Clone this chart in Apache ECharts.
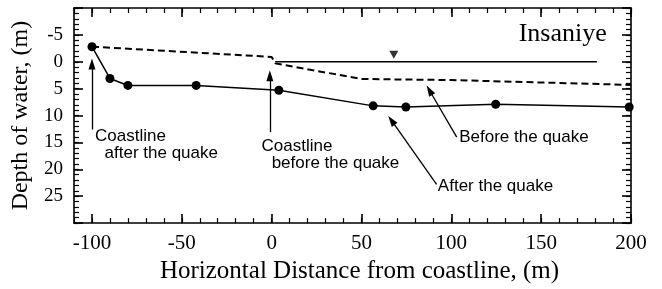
<!DOCTYPE html>
<html>
<head>
<meta charset="utf-8">
<script src="https://cdn.jsdelivr.net/npm/echarts@6/dist/echarts.min.js"></script>
<style>html,body{margin:0;padding:0;background:#fff;}#c{width:662px;height:289px;}</style>
</head>
<body>
<div id="c"></div>
<script>
// ---- data ----
const xMin = -110, xMax = 200, yMin = -10, yMax = 30;
const xMajorTicks = [-100, -50, 0, 50, 100, 150, 200];
const yLabels = [-5, 0, 5, 10, 15, 20, 25];
const afterQuake = [[-100, -2.8], [-90, 3.1], [-80, 4.4], [-42, 4.4], [4, 5.3], [56.5, 8.2], [74.7, 8.4], [124.7, 7.9], [199, 8.4]];
const beforeQuake = [[-100, -2.8], [0, -0.9], [2, 0.3], [50, 3.2], [100, 3.4], [200, 4.3]];
const seaLevel = [[2, 0], [181, 0]];
const seaMarker = [[68, -1.3]];
// annotation arrows: [tail, head] in data coordinates
const arrows = [
  [[-100, 12.6], [-100, 0.4]],
  [[-1, 13.1], [-1, 2.6]],
  [[103, 14], [87.8, 5.3]],
  [[91.8, 22.8], [66.7, 10.9]]
];
// annotation texts: [text, x(left), y(center)]
const notes = [
  ['Coastline', -98.3, 13.8],
  ['after the quake', -93, 17.1],
  ['Coastline', -5.6, 15.8],
  ['before the quake', 0, 18.9],
  ['Before the quake', 104.4, 14],
  ['After the quake', 92.5, 23.1]
];
const siteName = ['Insaniye', 162, -5.1];

const serif = '"Liberation Serif", "Times New Roman", serif';
const sans = '"Liberation Sans", Arial, sans-serif';
const black = '#000';

const chart = echarts.init(document.getElementById('c'), null, {renderer: 'canvas'});

function xAx(pos, major, extra) {
  const ax = {
    type: 'value', position: pos, min: xMin, max: xMax, offset: 0,
    axisLine: {show: major, onZero: false, lineStyle: {color: black, width: 1.6}},
    splitLine: {show: false},
    axisLabel: {show: false},
    axisTick: major ? {show: true, inside: true, length: 9, customValues: xMajorTicks, lineStyle: {color: black, width: 1.6}}
                    : {show: true, inside: true, length: 5, lineStyle: {color: black, width: 1.2}}
  };
  if (!major) ax.interval = 10;
  return Object.assign(ax, extra || {});
}
function yAx(pos, major, extra) {
  return Object.assign({
    type: 'value', position: pos, min: yMin, max: yMax, inverse: true, offset: 0,
    interval: major ? 5 : 1,
    axisLine: {show: major, onZero: false, lineStyle: {color: black, width: 1.6}},
    splitLine: {show: false},
    axisLabel: {show: false},
    axisTick: {show: true, inside: true, length: major ? 9 : 5, lineStyle: {color: black, width: major ? 1.6 : 1.2}}
  }, extra || {});
}

const option = {
  animation: false,
  backgroundColor: '#fff',
  grid: {left: 74, top: 8, right: 31, bottom: 61, containLabel: false},
  xAxis: [
    xAx('bottom', true, {
      name: 'Horizontal Distance from coastline, (m)', nameLocation: 'middle', nameGap: 31,
      nameTextStyle: {fontFamily: serif, fontSize: 25, color: black, padding: [0, 0, 0, 14]},
      axisLabel: {show: true, customValues: xMajorTicks, fontFamily: serif, fontSize: 21, color: black, margin: 10}
    }),
    xAx('bottom', false),
    xAx('top', true),
    xAx('top', false)
  ],
  yAxis: [
    yAx('left', true, {
      name: 'Depth of water, (m)', nameLocation: 'middle', nameGap: 36, nameRotate: 90,
      nameTextStyle: {fontFamily: serif, fontSize: 24, color: black},
      axisLabel: {show: true, customValues: yLabels, fontFamily: serif, fontSize: 19, color: black, margin: 11}
    }),
    yAx('left', false),
    yAx('right', true),
    yAx('right', false)
  ],
  series: [
    {
      type: 'line', name: 'Before the quake', data: beforeQuake, xAxisIndex: 0, yAxisIndex: 0,
      showSymbol: false, symbol: 'none',
      lineStyle: {color: black, width: 2, type: [7, 4]}, silent: true
    },
    {
      type: 'line', name: 'Sea level', data: seaLevel, xAxisIndex: 0, yAxisIndex: 0,
      symbol: 'none', lineStyle: {color: black, width: 1.5}, silent: true
    },
    {
      type: 'scatter', name: 'marker', data: seaMarker, xAxisIndex: 0, yAxisIndex: 0,
      symbol: 'triangle', symbolRotate: 180, symbolSize: [9, 8], itemStyle: {color: black}, silent: true
    },
    {
      type: 'line', name: 'After the quake', data: afterQuake, xAxisIndex: 0, yAxisIndex: 0,
      symbol: 'circle', symbolSize: 9, showSymbol: true,
      itemStyle: {color: black}, lineStyle: {color: black, width: 1.5}, silent: true,
      markLine: {
        silent: true, animation: false,
        symbol: ['none', 'triangle'], symbolSize: [7, 11],
        label: {show: false},
        lineStyle: {color: black, width: 1.3, type: 'solid'},
        data: arrows.map(a => [{coord: a[0]}, {coord: a[1]}])
      }
    }
  ]
};
chart.setOption(option);

const graphics = notes.map(n => {
  const p = chart.convertToPixel({xAxisIndex: 0, yAxisIndex: 0}, [n[1], n[2]]);
  return {type: 'text', x: p[0], y: p[1], silent: true,
    style: {text: n[0], fill: black, font: '17px ' + sans, textAlign: 'left', textVerticalAlign: 'middle'}};
});
const sp = chart.convertToPixel({xAxisIndex: 0, yAxisIndex: 0}, [siteName[1], siteName[2]]);
graphics.push({type: 'text', x: sp[0], y: sp[1], silent: true,
  style: {text: siteName[0], fill: black, font: '26px ' + serif, textAlign: 'center', textVerticalAlign: 'middle'}});
chart.setOption({graphic: graphics});
</script>
</body>
</html>
